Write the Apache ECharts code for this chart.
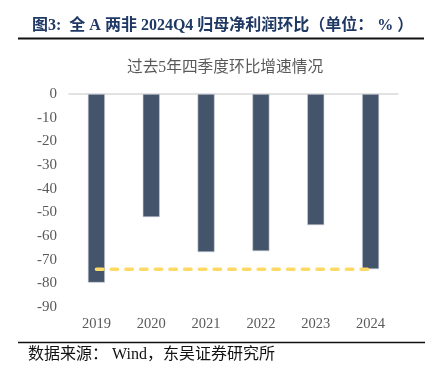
<!DOCTYPE html>
<html><head><meta charset="utf-8">
<script src="https://cdn.jsdelivr.net/npm/echarts@6/dist/echarts.min.js"></script>
<style>html,body{margin:0;padding:0;background:#fff}#c{width:432px;height:377px}</style>
</head><body><div id="c"></div>
<script>
var categories = ['2019','2020','2021','2022','2023','2024'];
var qoqValues = [-79.7, -52.0, -66.8, -66.4, -55.4, -74.0];
var refLine = [-74.0, -74.0, -74.0, -74.0, -74.0, -74.0];
var yTicks = [0,-10,-20,-30,-40,-50,-60,-70,-80,-90];

var chart = echarts.init(document.getElementById('c'), null, {renderer:'canvas'});
var serif = '"Liberation Serif", "Noto Sans CJK SC", serif';
chart.setOption({
  animation:false,
  backgroundColor:'#fff',
  title:[{
    text:'图3:  全 A 两非 2024Q4 归母净利润环比（单位： % ）',
    left:27, top:13,
    textStyle:{fontFamily:serif, fontWeight:'bold', fontSize:16, color:'#1F3864'}
  },{
    text:'过去5年四季度环比增速情况',
    left:122, top:55,
    textStyle:{fontFamily:serif, fontWeight:'normal', fontSize:15.7, color:'#595959'}
  }],
  graphic:[
    {type:'line', shape:{x1:18,y1:38.5,x2:424,y2:38.5}, style:{stroke:'#111', lineWidth:2}},
    {type:'line', shape:{x1:18,y1:342.5,x2:425,y2:342.5}, style:{stroke:'#111', lineWidth:1.6}},
    {type:'text', left:28, top:347, style:{text:'数据来源： Wind，东吴证券研究所', font:'16px "Liberation Serif", "Noto Sans CJK SC", serif', fill:'#111'}}
  ],
  grid:{left:69, right:34, top:94, bottom:70},
  xAxis:[{
    type:'category', data:categories, position:'top',
    axisLine:{show:true, onZero:false, lineStyle:{color:'#D9D9D9', width:1.5}},
    axisTick:{show:false}, axisLabel:{show:false}
  },{
    type:'category', data:categories, position:'bottom',
    axisLine:{show:false}, axisTick:{show:false},
    axisLabel:{fontFamily:serif, fontSize:14.5, color:'#595959', margin:10}
  }],
  yAxis:{
    type:'value', min:-90, max:0, interval:10,
    axisLine:{show:false}, axisTick:{show:false},
    splitLine:{show:false},
    axisLabel:{fontFamily:serif, fontSize:15, color:'#595959', margin:12,
      formatter:function(v){return yTicks.indexOf(v)>=0 ? String(v) : '';}}
  },
  series:[{
    type:'bar', data:qoqValues, barWidth:17,
    itemStyle:{color:'#44546A', borderColor:'#C9CED6', borderWidth:0.6}
  },{
    type:'line', data:refLine, symbol:'none',
    lineStyle:{color:'#FFD966', width:3.5, type:[6.5,8.2], cap:'round'},
    z:5
  }]
});
</script></body></html>
